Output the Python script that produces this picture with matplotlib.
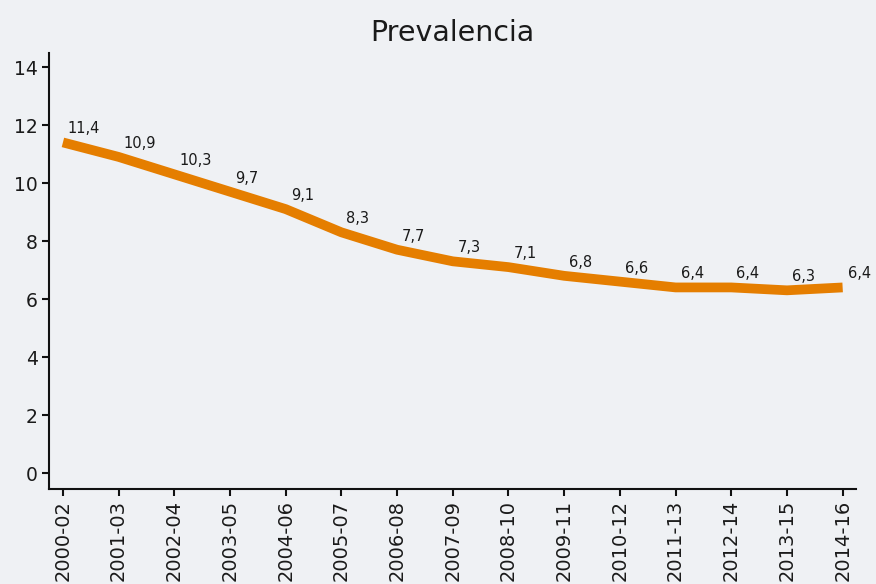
import matplotlib
matplotlib.use("Agg")
import matplotlib.pyplot as plt

periods = ["2000-02", "2001-03", "2002-04", "2003-05", "2004-06", "2005-07", "2006-08",
           "2007-09", "2008-10", "2009-11", "2010-12", "2011-13", "2012-14", "2013-15", "2014-16"]
values = [11.4, 10.9, 10.3, 9.7, 9.1, 8.3, 7.7, 7.3, 7.1, 6.8, 6.6, 6.4, 6.4, 6.3, 6.4]
yticks = [0, 2, 4, 6, 8, 10, 12, 14]

bg = "#eff1f4"
fig = plt.figure(figsize=(8.76, 5.84), dpi=100, facecolor=bg)
ax = fig.add_axes([49/876, 1-489/584, (856-49)/876, (489-52.5)/584], facecolor=bg)

x = list(range(len(periods)))
ax.plot(x, values, color="#e57e00", lw=7, solid_capstyle="butt", solid_joinstyle="round")
for xi, v in zip(x, values):
    ax.annotate(f"{v:.1f}".replace(".", ","), (xi, v), xytext=(5, 6), textcoords="offset pixels",
                ha="left", va="bottom", fontsize=10.5, color="#1a1a1a", family="DejaVu Sans")

ax.set_xlim(-0.25, 14.24)
ax.set_ylim(-0.55, 14.5)
ax.set_yticks(yticks)
ax.set_yticklabels([str(t) for t in yticks], fontsize=13.5, color="#1a1a1a")
ax.set_xticks(x)
ax.set_xticklabels(periods, rotation=90, fontsize=14, color="#1a1a1a")
for s in ["top", "right"]:
    ax.spines[s].set_visible(False)
for s in ["left", "bottom"]:
    ax.spines[s].set_linewidth(1.5)
    ax.spines[s].set_color("#111111")
ax.tick_params(axis="both", length=5, width=1.5, color="#111111", pad=3)
ax.set_title("Prevalencia", fontsize=20.5, color="#1a1a1a", pad=8)

fig.savefig("out.png", dpi=100, facecolor=bg)
